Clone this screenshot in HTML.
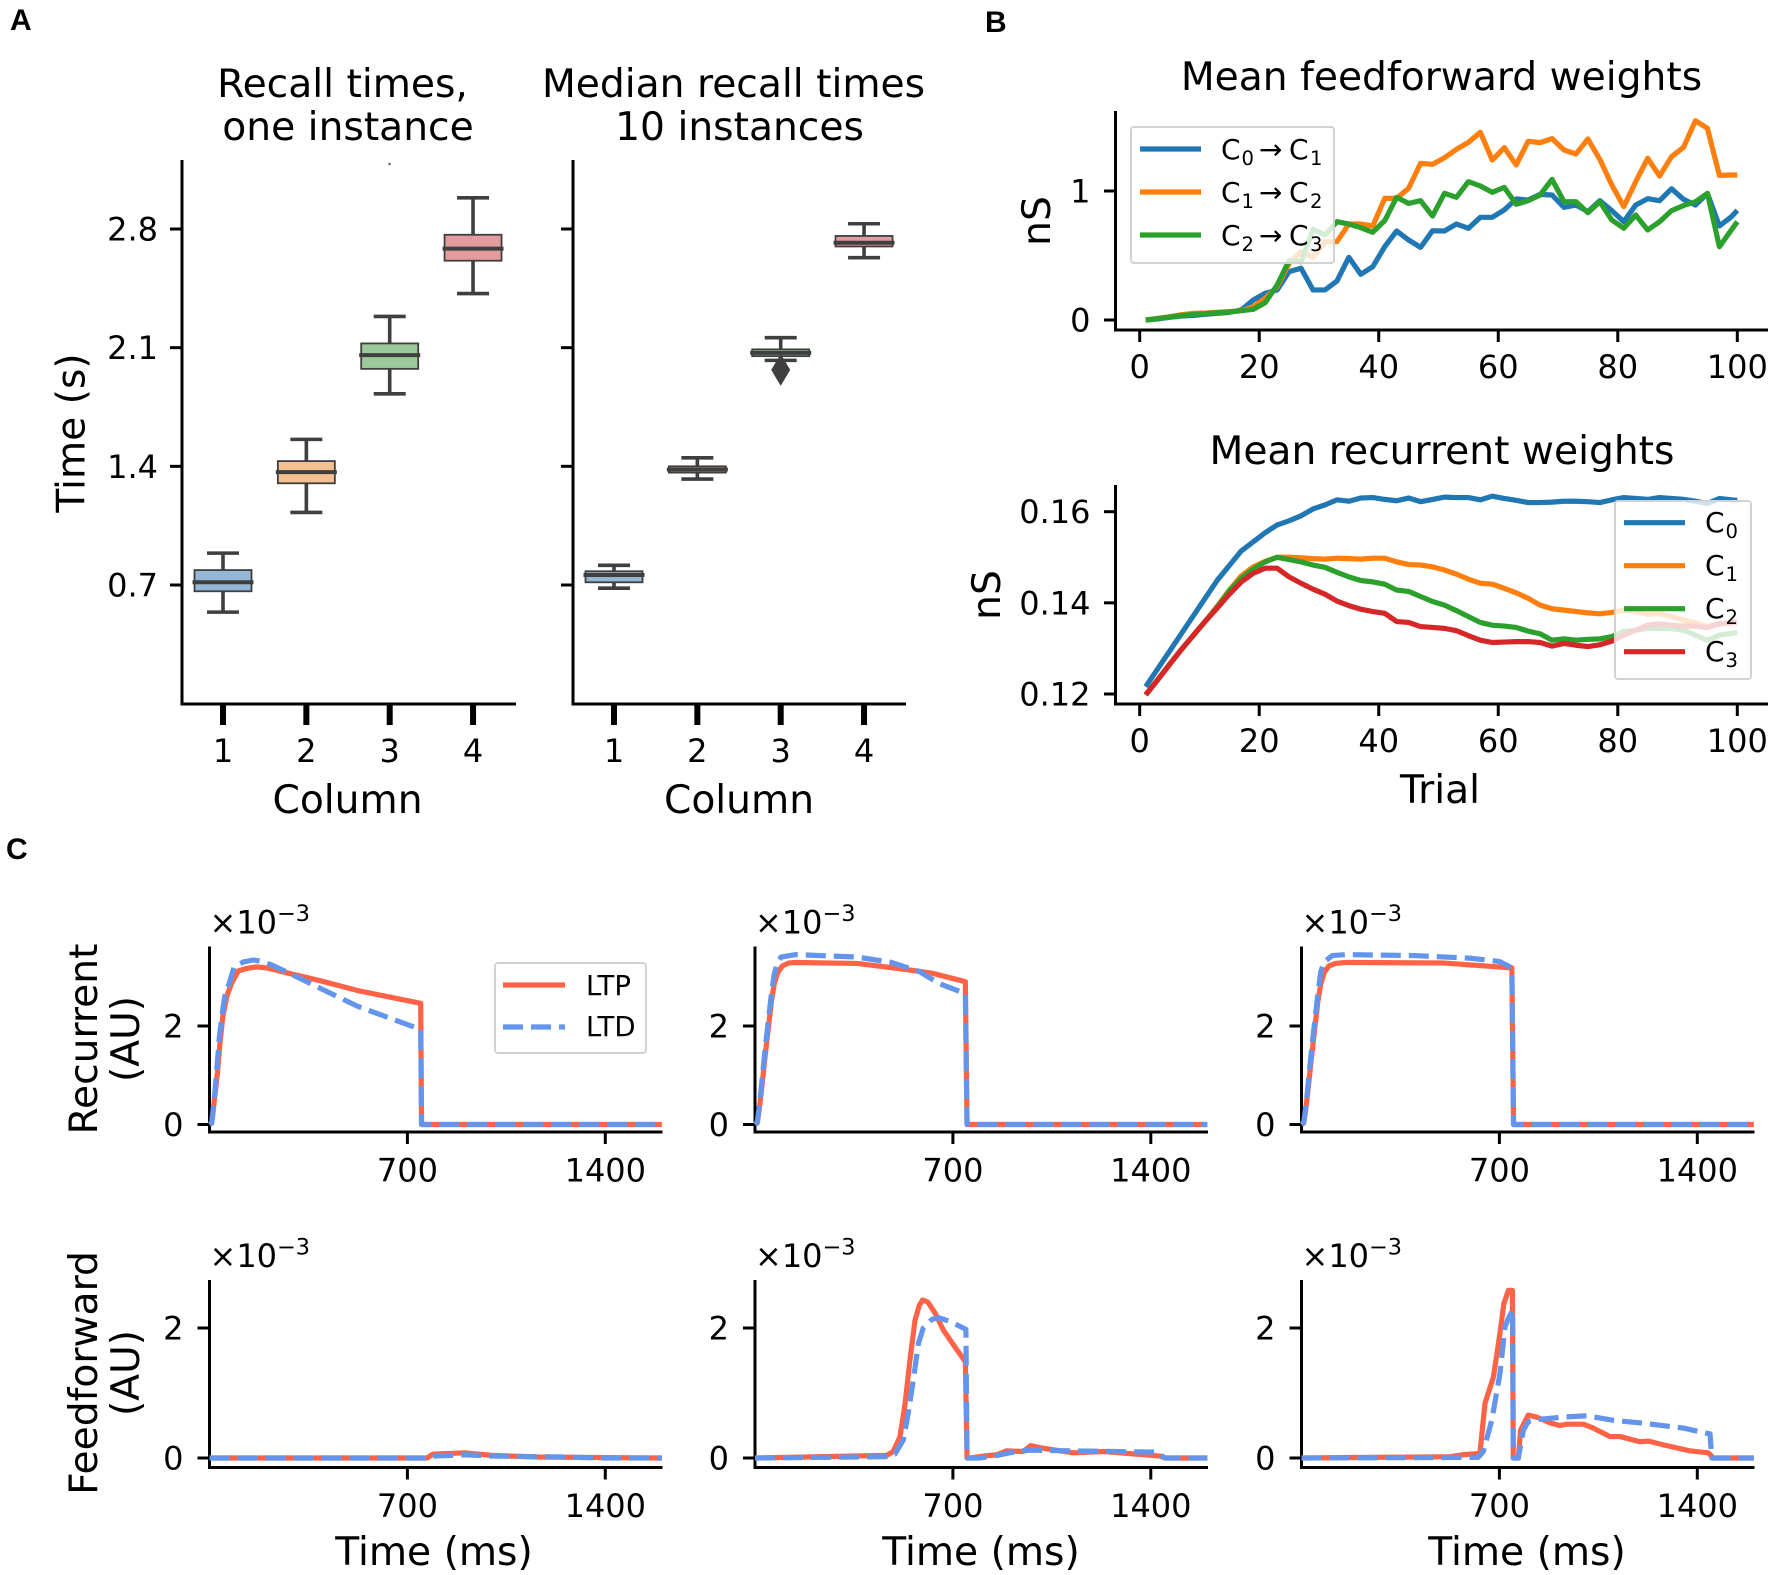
<!DOCTYPE html>
<html lang="en">
<head>
<meta charset="utf-8">
<title>Recall times, weights and plasticity traces</title>
<style>
html,body{margin:0;padding:0;background:#fff;}
svg{display:block;}
text{font-family:"DejaVu Sans","Liberation Sans",sans-serif;fill:#000;}
.panel{font-family:"Liberation Sans",sans-serif;font-weight:700;font-size:30px;}
.big{font-size:39.2px;}
</style>
</head>
<body>
<svg id="fig" xmlns="http://www.w3.org/2000/svg" width="1772" height="1575" viewBox="0 0 1772 1575">
<rect x="0" y="0" width="1772" height="1575" fill="#fff"/>
<text class="panel" x="10" y="30">A</text>
<text class="panel" x="985" y="32">B</text>
<text class="panel" x="6" y="859">C</text>

<text class="big" x="342.5" y="97" text-anchor="middle">Recall times,</text>
<text class="big" x="348" y="140" text-anchor="middle">one instance</text>
<text class="big" x="733.5" y="97" text-anchor="middle">Median recall times</text>
<text class="big" x="739.5" y="140" text-anchor="middle">10 instances</text>
<text class="big" x="347.5" y="813" text-anchor="middle">Column</text>
<text class="big" x="739" y="813" text-anchor="middle">Column</text>
<text class="big" transform="translate(84.5,433) rotate(-90)" text-anchor="middle">Time (s)</text>

<text class="big" x="1441.5" y="90" text-anchor="middle">Mean feedforward weights</text>
<text class="big" x="1442" y="464" text-anchor="middle">Mean recurrent weights</text>
<text class="big" transform="translate(1050,221) rotate(-90)" text-anchor="middle">nS</text>
<text class="big" transform="translate(1000,595) rotate(-90)" text-anchor="middle">nS</text>
<text class="big" x="1440" y="803" text-anchor="middle">Trial</text>

<text class="big" transform="translate(97,1039) rotate(-90)" text-anchor="middle">Recurrent</text>
<text class="big" transform="translate(139,1039) rotate(-90)" text-anchor="middle">(AU)</text>
<text class="big" transform="translate(97,1373) rotate(-90)" text-anchor="middle">Feedforward</text>
<text class="big" transform="translate(139,1373) rotate(-90)" text-anchor="middle">(AU)</text>
<text class="big" x="434" y="1565" text-anchor="middle">Time (ms)</text>
<text class="big" x="981" y="1565" text-anchor="middle">Time (ms)</text>
<text class="big" x="1527" y="1565" text-anchor="middle">Time (ms)</text>
</svg>

<script>
// ---------- Panel A data ----------
const columnLabels = ['1', '2', '3', '4'];
const timeTicks = [0.7, 1.4, 2.1, 2.8];
const boxColors = ['#93b7d5', '#f5c08f', '#9bc99b', '#e39c9e'];

const recallHigh = [0.888, 1.559, 2.284, 2.984];
const recallQ3 = [0.788, 1.431, 2.125, 2.766];
const recallMedian = [0.716, 1.366, 2.056, 2.684];
const recallQ1 = [0.663, 1.300, 1.975, 2.613];
const recallLow = [0.540, 1.128, 1.828, 2.419];

const medianHigh = [0.816, 1.450, 2.159, 2.831];
const medianQ3 = [0.781, 1.400, 2.090, 2.759];
const medianMedian = [0.759, 1.381, 2.069, 2.719];
const medianQ1 = [0.716, 1.363, 2.050, 2.697];
const medianLow = [0.681, 1.325, 2.025, 2.631];
const medianFlier = [null, null, 1.969, null];

// ---------- Panel B data ----------
const trials = [1,3,5,7,9,11,13,15,17,19,21,23,25,27,29,31,33,35,37,39,41,43,45,47,49,51,53,55,57,59,61,63,65,67,69,71,73,75,77,79,81,83,85,87,89,91,93,95,97,99,100];
const trialTicks = [0, 20, 40, 60, 80, 100];
const weightColors = ['#1f77b4', '#ff7f0e', '#2ca02c', '#d62728'];

const ffTicks = [0, 1];
const ffC0C1 = [0,.008,.021,.031,.036,.044,.052,.059,.078,.155,.207,.233,.375,.401,.233,.233,.302,.486,.354,.413,.568,.690,.620,.563,.692,.690,.744,.711,.796,.796,.853,.938,.930,.974,.969,.873,.891,.840,.925,.848,.762,.891,.940,.925,1.018,.935,.891,.981,.729,.80,.85];
const ffC1C2 = [0,.013,.026,.041,.052,.054,.059,.065,.072,.103,.168,.258,.439,.530,.486,.607,.607,.744,.744,.729,.943,.943,1.021,1.214,1.207,1.258,1.323,1.377,1.455,1.240,1.336,1.202,1.385,1.375,1.406,1.318,1.287,1.403,1.245,1.047,.879,1.072,1.253,1.116,1.266,1.339,1.545,1.486,1.121,1.124,1.124];
const ffC2C3 = [0,.010,.023,.034,.044,.049,.057,.062,.072,.083,.134,.271,.460,.452,.703,.659,.762,.744,.716,.680,.770,.951,.904,.925,.806,.982,.951,1.072,1.039,.990,1.028,.897,.925,.969,1.090,.917,.917,.832,.917,.775,.711,.814,.698,.762,.848,.887,.917,.982,.568,.698,.762];

const recTicks = [0.12, 0.14, 0.16];
const recC0 = [.1216,.1255,.1294,.1333,.1372,.1411,.1450,.1482,.1514,.1534,.1554,.1571,.1580,.1591,.1606,.1615,.1626,.1623,.1630,.1631,.1627,.1624,.1630,.1622,.1627,.1632,.1631,.1631,.1626,.1634,.1629,.1625,.1620,.1620,.1621,.1623,.1623,.1622,.1620,.1626,.1631,.1629,.1627,.1631,.1629,.1627,.1623,.1618,.1629,.1626,.1625];
const recC1 = [.1198,.1231,.1265,.1298,.1329,.1360,.1393,.1428,.1459,.1479,.1491,.1500,.1500,.1499,.1497,.1496,.1498,.1497,.1496,.1498,.1498,.1490,.1484,.1483,.1479,.1472,.1463,.1452,.1443,.1441,.1432,.1422,.1410,.1395,.1387,.1384,.1381,.1378,.1376,.1379,.1384,.1381,.1375,.1376,.1370,.1362,.1356,.1348,.1354,.1356,.1357];
const recC2 = [.1198,.1231,.1265,.1298,.1329,.1360,.1391,.1426,.1454,.1474,.1490,.1500,.1495,.1490,.1483,.1478,.1467,.1457,.1449,.1446,.1441,.1428,.1425,.1414,.1403,.1395,.1383,.1370,.1357,.1351,.1349,.1346,.1338,.1332,.1318,.1321,.1318,.1320,.1321,.1326,.1337,.1340,.1344,.1344,.1343,.1340,.1329,.1318,.1329,.1333,.1335];
const recC3 = [.1198,.1231,.1265,.1298,.1329,.1360,.1389,.1419,.1446,.1465,.1476,.1476,.1457,.1443,.1430,.1419,.1404,.1394,.1386,.1381,.1377,.1359,.1357,.1348,.1346,.1344,.1339,.1328,.1318,.1313,.1314,.1315,.1315,.1313,.1305,.1311,.1307,.1304,.1308,.1316,.1329,.1340,.1351,.1354,.1351,.1349,.1349,.1346,.1354,.1357,.1358];

// ---------- Panel C data ----------
const timeMsTicks = [700, 1400];
const traceTicks = [0, 2];

const recLeftTimes = [0,8,16,28,37,47,61,78,102,132,167,202,273,391,524,747,750,1600];
const recLeftLTP = [0,.03,.43,1.04,1.65,2.19,2.6,2.87,3.12,3.17,3.20,3.18,3.08,2.92,2.72,2.46,0,0];
const recLeftLtdTimes = [0,8,19,35,47,55,70,87,120,155,185,220,279,361,524,747,750,1600];
const recLeftLTD = [0,.03,.64,1.78,2.33,2.63,2.87,3.2,3.30,3.34,3.31,3.24,3.08,2.85,2.40,1.93,0,0];

const recMidTimes = [0,8,16,24,36,48,58,68,80,97,120,145,362,531,628,744,750,1600];
const recMidLTP = [0,.03,.35,.75,1.4,2.0,2.5,2.85,3.08,3.22,3.28,3.29,3.27,3.15,3.07,2.9,0,0];
const recMidLtdTimes = [0,8,16,24,36,48,58,68,80,92,145,362,483,580,652,744,750,1600];
const recMidLTD = [0,.04,.4,.85,1.55,2.15,2.65,3.05,3.3,3.4,3.45,3.40,3.29,3.11,2.86,2.66,0,0];

const recRightTimes = [0,8,16,24,36,48,58,68,80,97,120,157,500,744,750,1600];
const recRightLTP = [0,.03,.35,.75,1.4,2.0,2.5,2.85,3.08,3.22,3.27,3.29,3.28,3.18,0,0];
const recRightLtdTimes = [0,8,16,24,36,48,58,68,80,109,157,400,600,700,744,750,1600];
const recRightLTD = [0,.04,.4,.85,1.55,2.15,2.65,3.1,3.3,3.43,3.45,3.43,3.375,3.31,3.18,0,0];

const ffLeftTimes = [0,770,790,903,998,1156,1600];
const ffLeftLTP = [0,0,.06,.08,.04,.015,0];
const ffLeftLtdTimes = [0,770,790,903,1000,1250,1400,1600];
const ffLeftLTD = [0,0,.03,.05,.03,.015,0,0];

const ffMidTimes = [0,466,489,513,531,548,566,581,593,611,637,666,702,744,750,760,808,855,890,949,975,1020,1126,1232,1432,1450,1600];
const ffMidLTP = [0,.04,.1,.33,.84,1.51,2.12,2.35,2.43,2.4,2.23,1.97,1.74,1.48,0,0,.03,.05,.11,.10,.19,.15,.08,.1,.03,0,0];
const ffMidLtdTimes = [0,466,495,525,542,560,578,595,625,648,690,746,750,796,855,925,973,1126,1421,1450,1600];
const ffMidLTD = [0,.02,.06,.28,.69,1.2,1.76,2.0,2.13,2.16,2.1,1.98,0,0,.04,.10,.12,.11,.09,0,0];

const ffRightTimes = [0,525,572,631,649,679,702,716,732,746,749,767,775,802,832,879,914,938,967,997,1032,1091,1127,1197,1227,1292,1374,1439,1457,1600];
const ffRightLTP = [0,.02,.05,.07,.84,1.25,1.92,2.38,2.58,2.58,0,0,.43,.66,.63,.54,.5,.52,.52,.52,.46,.33,.33,.25,.26,.19,.11,.08,0,0];
const ffRightLtdTimes = [0,625,643,673,702,720,732,747,749,767,785,802,832,926,1009,1103,1221,1351,1445,1451,1600];
const ffRightLTD = [0,.01,.1,.58,1.3,2.02,2.15,2.28,0,0,.43,.56,.59,.63,.65,.58,.53,.46,.37,0,0];

// ---------- Helpers ----------
const fig = document.getElementById('fig');
const SVGNS = 'http://www.w3.org/2000/svg';
const AXIS = '#000';
const BOXINK = '#3f3f3f';
const LW = 5.2;
const TICKFONT = 32;

function shape(tag, attrs) {
  const el = document.createElementNS(SVGNS, tag);
  for (const k in attrs) el.setAttribute(k, attrs[k]);
  
  fig.appendChild(el);
  return el;
}
function linear(v0, p0, v1, p1) {
  return v => p0 + (v - v0) * (p1 - p0) / (v1 - v0);
}
function hLine(x1, x2, y, w, color, name) {
  const el = shape('line', {x1: x1, x2: x2, y1: y, y2: y, stroke: color, 'stroke-width': w});
  
  return el;
}
function vLine(x, y1, y2, w, color, name) {
  const el = shape('line', {x1: x, x2: x, y1: y1, y2: y2, stroke: color, 'stroke-width': w});
  
  return el;
}
function label(str, x, y, anchor, size, name) {
  const el = shape('text', {x: x, y: y, 'text-anchor': anchor, 'font-size': size});
  
  el.textContent = str;
  return el;
}
function spines(left, right, top, bottom, prefix) {
  vLine(left, top, bottom + 1.5, 3, AXIS, prefix + '-y-axis-line');
  hLine(left - 1.5, right, bottom, 3, AXIS, prefix + '-x-axis-line');
}
function plotLine(xs, ys, sx, sy, color, width, dash, name) {
  const pts = xs.map((x, i) => sx(x).toFixed(2) + ',' + sy(ys[i]).toFixed(2)).join(' ');
  const attrs = {points: pts, fill: 'none', stroke: color, 'stroke-width': width, 'stroke-linejoin': 'round'};
  if (dash) attrs['stroke-dasharray'] = dash;
  const el = shape('polyline', attrs);
  
  return el;
}
function legendBox(x, y, w, h, name) {
  const el = shape('rect', {x: x, y: y, width: w, height: h, rx: 3, fill: 'rgba(255,255,255,0.8)', stroke: '#d2d2d2', 'stroke-width': 2});
  
  return el;
}
function subscripted(parts, x, y, name) {
  const el = shape('text', {x: x, y: y, 'font-size': 28});
  
  parts.forEach(p => {
    const ts = document.createElementNS(SVGNS, 'tspan');
    ts.setAttribute('x', x + p.dx);
    ts.setAttribute('y', p.sub ? y + 6 : y);
    if (p.sub) ts.setAttribute('font-size', 19.6);
    ts.textContent = p.t;
    el.appendChild(ts);
  });
  return el;
}

// ---------- Panel A ----------
function boxPanel(opts) {
  const sy = linear(0.7, 585, 2.8, 229);
  const sx = i => opts.x0 + i * 83.35;
  spines(opts.left, opts.right, 160, 704, opts.prefix);
  timeTicks.forEach(t => {
    hLine(opts.left - 12, opts.left, sy(t), 3, AXIS, opts.prefix + '-y-tick');
    if (opts.labels) label(t.toFixed(1), opts.left - 24, sy(t) + 11.5, 'end', TICKFONT, opts.prefix + '-y-tick-label');
  });
  columnLabels.forEach((c, i) => {
    const x = sx(i);
    vLine(x, 704, 725, 6, AXIS, opts.prefix + '-x-tick');
    label(c, x, 762, 'middle', TICKFONT, opts.prefix + '-x-tick-label');
    vLine(x, sy(opts.hi[i]), sy(opts.q3[i]), 3.6, BOXINK, opts.prefix + '-upper-whisker-' + c);
    vLine(x, sy(opts.q1[i]), sy(opts.lo[i]), 3.6, BOXINK, opts.prefix + '-lower-whisker-' + c);
    hLine(x - 16, x + 16, sy(opts.hi[i]), 3.6, BOXINK, opts.prefix + '-upper-cap-' + c);
    hLine(x - 16, x + 16, sy(opts.lo[i]), 3.6, BOXINK, opts.prefix + '-lower-cap-' + c);
    const box = shape('rect', {x: x - 28.5, y: sy(opts.q3[i]), width: 57, height: sy(opts.q1[i]) - sy(opts.q3[i]), fill: boxColors[i], stroke: BOXINK, 'stroke-width': 1.8});
    
    hLine(x - 30.5, x + 30.5, sy(opts.med[i]), 4, BOXINK, opts.prefix + '-median-' + c);
    if (opts.flier && opts.flier[i] !== null) {
      const fy = sy(opts.flier[i]);
      const d = shape('polygon', {points: [x + ',' + (fy - 16) , (x + 9.5) + ',' + fy, x + ',' + (fy + 16), (x - 9.5) + ',' + fy].join(' '), fill: BOXINK});
      
    }
  });
}
boxPanel({prefix: 'recall', left: 182, right: 516, x0: 223, labels: true, hi: recallHigh, q3: recallQ3, med: recallMedian, q1: recallQ1, lo: recallLow});
boxPanel({prefix: 'median', left: 573, right: 906, x0: 614, labels: false, hi: medianHigh, q3: medianQ3, med: medianMedian, q1: medianQ1, lo: medianLow, flier: medianFlier});

const speck = shape('circle', {cx: 389.5, cy: 164, r: 1.2, fill: '#555'});


// ---------- Panel B ----------
const sxTrial = linear(0, 1139.7, 100, 1737.3);
const syFF = linear(0, 320, 1, 191);
const syRec = linear(0.12, 694, 0.16, 511.7);

function weightAxes(prefix, top, bottom, ticks, sy, fmt, xLabelY) {
  spines(1115.5, 1768, top, bottom, prefix);
  ticks.forEach(t => {
    hLine(1104, 1115.5, sy(t), 3, AXIS, prefix + '-y-tick');
    label(fmt(t), 1090.5, sy(t) + 11.5, 'end', TICKFONT, prefix + '-y-tick-label');
  });
  trialTicks.forEach(t => {
    vLine(sxTrial(t), bottom, bottom + 12, 3, AXIS, prefix + '-x-tick');
    label(String(t), sxTrial(t), xLabelY, 'middle', TICKFONT, prefix + '-x-tick-label');
  });
}
weightAxes('feedforward', 111, 330, ffTicks, syFF, t => String(t), 378);
weightAxes('recurrent', 485, 704, recTicks, syRec, t => t.toFixed(2), 752);

plotLine(trials, ffC0C1, sxTrial, syFF, weightColors[0], LW, null, 'line-c0-c1');
plotLine(trials, ffC1C2, sxTrial, syFF, weightColors[1], LW, null, 'line-c1-c2');
plotLine(trials, ffC2C3, sxTrial, syFF, weightColors[2], LW, null, 'line-c2-c3');

plotLine(trials, recC0, sxTrial, syRec, weightColors[0], LW, null, 'line-c0');
plotLine(trials, recC1, sxTrial, syRec, weightColors[1], LW, null, 'line-c1');
plotLine(trials, recC2, sxTrial, syRec, weightColors[2], LW, null, 'line-c2');
plotLine(trials, recC3, sxTrial, syRec, weightColors[3], LW, null, 'line-c3');

legendBox(1131, 127, 203, 136, 'feedforward-legend');
[['0','1'],['1','2'],['2','3']].forEach((p, i) => {
  const y = 149 + i * 43;
  hLine(1140, 1201, y, LW, weightColors[i], 'feedforward-legend-swatch');
  subscripted([
    {t: 'C', dx: 0}, {t: p[0], dx: 20.5, sub: true},
    {t: '\u2192', dx: 38}, {t: 'C', dx: 68}, {t: p[1], dx: 89, sub: true}
  ], 1221, y + 10, 'feedforward-legend-entry');
});

legendBox(1615, 501, 136, 178, 'recurrent-legend');
['0','1','2','3'].forEach((p, i) => {
  const y = 522.7 + i * 43;
  hLine(1624, 1685, y, LW, weightColors[i], 'recurrent-legend-swatch');
  subscripted([{t: 'C', dx: 0}, {t: p, dx: 20.5, sub: true}], 1705, y + 9.5, 'recurrent-legend-entry');
});

// ---------- Panel C ----------
function tracePanel(o) {
  const sx = linear(0, o.left, 700, o.left + 197.9);
  const sy = linear(0, o.y0, 2, o.y2);
  spines(o.left, o.left + 453, o.top, o.bottom, o.prefix);
  traceTicks.forEach(t => {
    hLine(o.left - 12, o.left, sy(t), 3, AXIS, o.prefix + '-y-tick');
    label(String(t), o.left - 26, sy(t) + 11.5, 'end', TICKFONT, o.prefix + '-y-tick-label');
  });
  timeMsTicks.forEach(t => {
    vLine(sx(t), o.bottom, o.bottom + 12, 3, AXIS, o.prefix + '-x-tick');
    label(String(t), sx(t), o.bottom + 49.5, 'middle', TICKFONT, o.prefix + '-x-tick-label');
  });
  const off = shape('text', {x: o.left, y: o.top - 13, 'font-size': 32});
  
  off.textContent = '\u00d710';
  const sup = document.createElementNS(SVGNS, 'tspan');
  sup.setAttribute('font-size', 22.4);
  sup.setAttribute('dy', -12.6);
  sup.textContent = '\u22123';
  off.appendChild(sup);
  plotLine(o.ltpT, o.ltp, sx, sy, '#ff6347', LW, null, o.prefix + '-ltp-line');
  plotLine(o.ltdT, o.ltd, sx, sy, '#6495ed', LW, '20 8', o.prefix + '-ltd-line');
}
const rowRec = {top: 946.5, bottom: 1132, y0: 1124.5, y2: 1026};
const rowFF = {top: 1280, bottom: 1467.5, y0: 1458, y2: 1328};

tracePanel(Object.assign({prefix: 'recurrent-left', left: 209.5, ltpT: recLeftTimes, ltp: recLeftLTP, ltdT: recLeftLtdTimes, ltd: recLeftLTD}, rowRec));
tracePanel(Object.assign({prefix: 'recurrent-middle', left: 755, ltpT: recMidTimes, ltp: recMidLTP, ltdT: recMidLtdTimes, ltd: recMidLTD}, rowRec));
tracePanel(Object.assign({prefix: 'recurrent-right', left: 1301.5, ltpT: recRightTimes, ltp: recRightLTP, ltdT: recRightLtdTimes, ltd: recRightLTD}, rowRec));
tracePanel(Object.assign({prefix: 'feedforward-left', left: 209.5, ltpT: ffLeftTimes, ltp: ffLeftLTP, ltdT: ffLeftLtdTimes, ltd: ffLeftLTD}, rowFF));
tracePanel(Object.assign({prefix: 'feedforward-middle', left: 755, ltpT: ffMidTimes, ltp: ffMidLTP, ltdT: ffMidLtdTimes, ltd: ffMidLTD}, rowFF));
tracePanel(Object.assign({prefix: 'feedforward-right', left: 1301.5, ltpT: ffRightTimes, ltp: ffRightLTP, ltdT: ffRightLtdTimes, ltd: ffRightLTD}, rowFF));

legendBox(495, 963, 151, 90, 'trace-legend');
hLine(503, 565, 985, LW, '#ff6347', 'legend-swatch-ltp');
hLine(503, 565, 1027, LW, '#6495ed', 'legend-swatch-ltd').setAttribute('stroke-dasharray', '20 8');
label('LTP', 586, 995, 'start', 27.5, 'legend-entry-ltp');
label('LTD', 586, 1036, 'start', 27.5, 'legend-entry-ltd');
</script>
</body>
</html>
